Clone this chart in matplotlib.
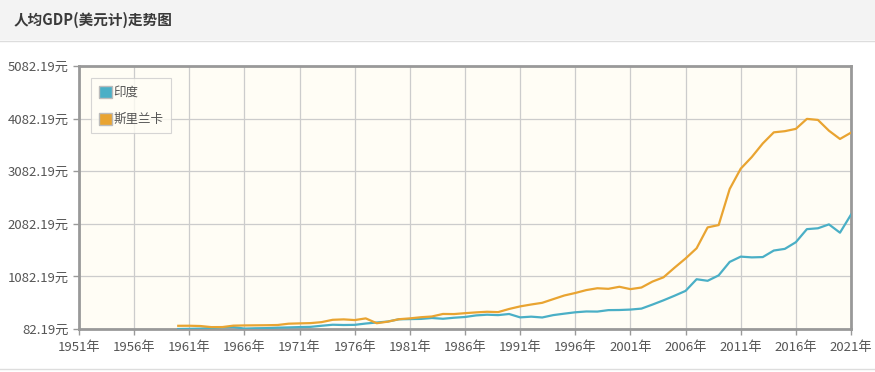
import matplotlib
matplotlib.use('Agg')
from matplotlib import pyplot as plt
from matplotlib.patches import Patch, Rectangle
from matplotlib.lines import Line2D

plt.rcParams['font.family'] = ['Noto Sans CJK SC', 'DejaVu Sans']

# data (current US$)
years = list(range(1960, 2022))
india = [82.2, 85.4, 89.9, 101.1, 115.5, 119.0, 90.0, 96.0, 99.0, 107.6,
         112.4, 118.6, 122.9, 143.8, 163.2, 158.0, 161.1, 186.2, 205.7, 224.0,
         266.6, 270.5, 274.1, 291.2, 276.7, 296.4, 310.5, 340.4, 354.2, 346.1,
         367.6, 303.1, 316.9, 301.2, 346.2, 373.8, 399.9, 415.5, 413.3, 441.0,
         443.3, 451.6, 470.0, 546.7, 627.8, 714.9, 806.8, 1028.3, 998.5, 1101.9,
         1357.6, 1458.1, 1443.9, 1449.6, 1573.9, 1605.6, 1732.6, 1980.7, 1996.9, 2071.0,
         1913.2, 2256.6]
sri_lanka = [143, 144, 139, 118, 119, 146, 150, 152, 154, 158,
             183, 189, 194, 213, 257, 265, 252, 284, 192, 222,
             268, 284, 306, 320, 368, 366, 383, 398, 410, 403,
             463, 512, 548, 580, 650, 719, 767, 822, 857, 846,
             885, 840, 871, 984, 1065, 1248, 1423, 1617, 2014, 2058,
             2744, 3130, 3351, 3610, 3821, 3843, 3887, 4077, 4057, 3852,
             3695, 3815]
series_names = ['印度', '斯里兰卡']
series_colors = ['#4aafc6', '#e9a431']
x_ticks = list(range(1951, 2022, 5))
y_ticks = [82.19, 1082.19, 2082.19, 3082.19, 4082.19, 5082.19]

text_color = '#555555'
frame_color = '#999999'
W, H = 875, 372

fig = plt.figure(figsize=(8.75, 3.72), dpi=100)
fig.set_facecolor('white')

# title bar
fig.patches.append(Rectangle((0, 1 - 40 / H), 1, 40 / H, transform=fig.transFigure,
                             facecolor='#f3f3f3', edgecolor='none', zorder=0))
fig.lines.append(Line2D([0, 1], [1 - 41 / H] * 2, transform=fig.transFigure,
                        color='#dddddd', lw=1))
fig.lines.append(Line2D([0, 1], [3 / H] * 2, transform=fig.transFigure,
                        color='#dddddd', lw=1))
fig.text(14 / W, 1 - 20 / H, '人均GDP(美元计)走势图', fontsize=10.5, fontweight='bold',
         color='#3a3a3a', va='center', ha='left')

# plot area: x 79..851, y 66..329 px
ax = fig.add_axes([79 / W, (H - 329) / H, 772 / W, 263 / H])
ax.set_facecolor('#fffdf5')

for vals, name, col in zip([india, sri_lanka], series_names, series_colors):
    ax.plot(years, vals, color=col, lw=1.6, label=name, zorder=3)

ax.set_xlim(1951, 2021)
ax.set_ylim(y_ticks[0], y_ticks[-1])
ax.set_xticks(x_ticks)
ax.set_xticklabels([f'{y}年' for y in x_ticks])
ax.set_yticks(y_ticks)
ax.set_yticklabels([f'{v:.2f}元' for v in y_ticks])
ax.grid(True, color='#cccccc', lw=0.9)
ax.set_axisbelow(True)

ax.tick_params(axis='both', colors=frame_color, labelcolor=text_color, labelsize=9.5,
               length=4, width=1)
ax.tick_params(axis='x', pad=5)
for side in ['top', 'right', 'bottom', 'left']:
    ax.spines[side].set_color(frame_color)
    ax.spines[side].set_linewidth(2)

handles = [Patch(facecolor=c, edgecolor='#bbbbbb', label=n) for n, c in zip(series_names, series_colors)]
leg = ax.legend(handles=handles, loc='upper left',
                bbox_to_anchor=(12 / 772, 1 - 12 / 263),
                fontsize=9, frameon=True, fancybox=False, edgecolor='#cccccc',
                handlelength=1.1, handleheight=1.1, handletextpad=0.1,
                labelspacing=1.1, borderpad=0.6, borderaxespad=0.0)
leg.get_frame().set_linewidth(0.8)
leg.get_frame().set_facecolor('#fffdf5')
for t in leg.get_texts():
    t.set_color(text_color)

fig.savefig('out.png', dpi=100)
